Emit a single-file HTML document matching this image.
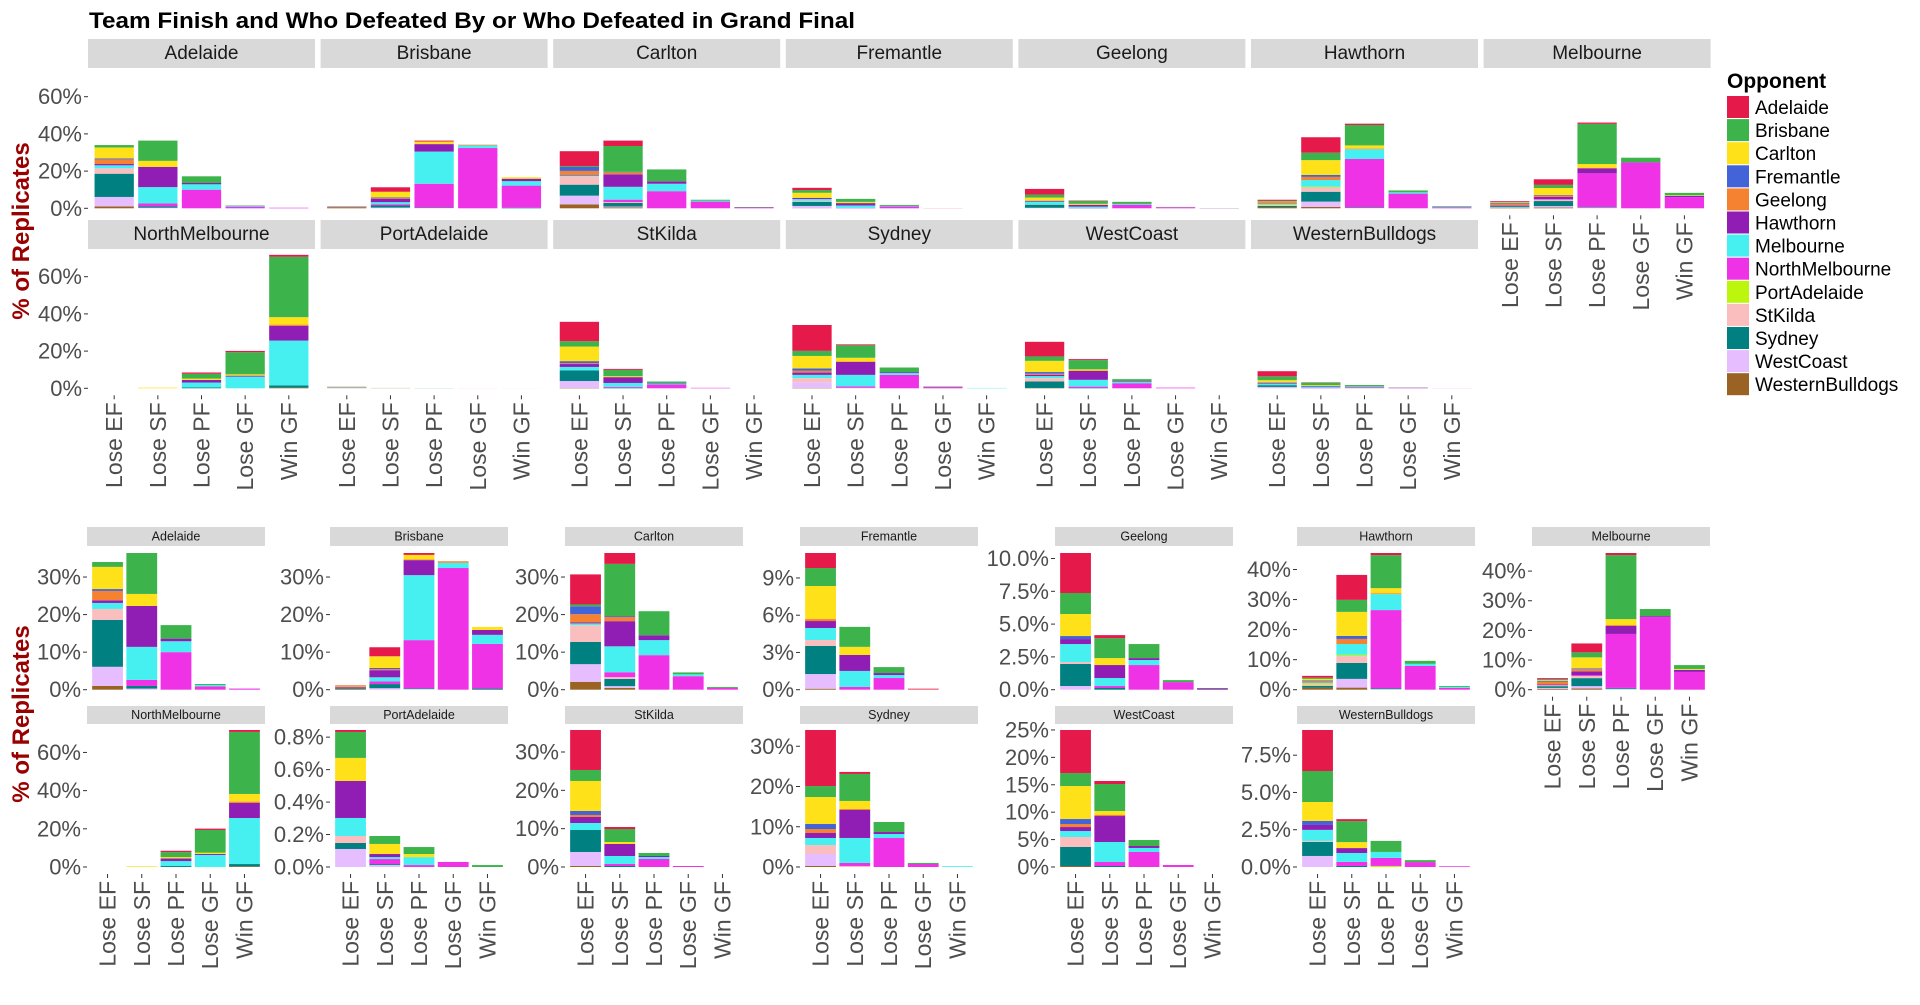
<!DOCTYPE html>
<html><head><meta charset="utf-8"><title>Team Finish</title>
<style>html,body{margin:0;padding:0;background:#fff;}svg{display:block;font-family:"Liberation Sans",Arial,sans-serif;}</style>
</head><body>
<svg id="chart" xmlns="http://www.w3.org/2000/svg" width="1920" height="1005" viewBox="0 0 1920 1005">
<rect x="0" y="0" width="1920" height="1005" fill="#fff"/>
<text x="89" y="28" font-size="22" font-weight="bold" fill="#000" textLength="766" lengthAdjust="spacingAndGlyphs">Team Finish and Who Defeated By or Who Defeated in Grand Final</text>
<text transform="translate(29,231) rotate(-90)" text-anchor="middle" font-size="24" font-weight="bold" fill="#990000">% of Replicates</text>
<text transform="translate(29,714) rotate(-90)" text-anchor="middle" font-size="24" font-weight="bold" fill="#990000">% of Replicates</text>
<g id="legend"><text x="1727" y="88" font-size="21" font-weight="bold" fill="#000">Opponent</text></g>
<g id="topFacets"></g>
<g id="bottomFacets"></g>
</svg>
<script>
const teams=["Adelaide","Brisbane","Carlton","Fremantle","Geelong","Hawthorn","Melbourne","NorthMelbourne","PortAdelaide","StKilda","Sydney","WestCoast","WesternBulldogs"];
const opponents=["Adelaide","Brisbane","Carlton","Fremantle","Geelong","Hawthorn","Melbourne","NorthMelbourne","PortAdelaide","StKilda","Sydney","WestCoast","WesternBulldogs"];
const opponentColors=["#e6194b","#3cb44b","#ffe119","#4363d8","#f58231","#911eb4","#46f0f0","#f032e6","#bcf60c","#fabebe","#008080","#e6beff","#9a6324"];
const categories=["Lose EF","Lose SF","Lose PF","Lose GF","Win GF"];
const adelaideVals=[[0,1.3,5.9,.5,2.5,.7,1.6,0,0,2.9,12.5,5.1,1.0],[0,10.9,3.2,0,0,10.9,8.8,1.6,0,0,.7,.3,0],[0,3.6,0,0,0,.7,2.9,10.0,0,0,0,0,0],[0,.25,0,0,0,0,.35,.9,0,0,0,0,0],[0,0,0,0,0,0,0,.3,0,0,0,0,0]];
const brisbaneVals=[[.1,0,.2,.1,.2,.2,0,0,0,0,.2,0,.2],[2.4,0,3.1,.3,.3,1.9,1.1,.7,0,0,1.1,.4,0],[.5,0,1.2,0,.2,4.0,17.3,12.8,0,0,.2,.2,0],[0,0,0,0,.4,0,1.4,32.4,0,0,0,0,0],[0,0,.8,0,0,1.3,2.4,11.9,0,0,.3,0,0]];
const carltonVals=[[8.0,.5,0,2.1,2.2,.25,.45,0,0,4.5,5.9,4.7,2.1],[2.9,13.9,0,.25,1.1,6.7,6.9,1.3,0,.5,1.9,.45,.5],[0,6.4,0,0,0,1.3,4.0,9.2,0,0,0,0,0],[0,.5,0,0,0,0,.5,3.6,0,0,0,0,0],[0,.25,0,0,0,0,0,.45,0,0,0,0,0]];
const fremantleVals=[[1.21,1.45,2.66,0,.16,.56,.97,0,0,.48,2.26,1.18,.08],[0,1.61,.65,0,0,1.29,1.29,.22,0,0,0,0,0],[0,.48,0,0,0,.16,.24,.94,0,0,0,0,0],[0,0,.05,0,0,0,0,.08,0,0,0,0,0],[0,0,0,0,0,0,0,0,0,0,0,0,0]];
const geelongVals=[[3.05,1.6,1.68,.23,0,.38,1.37,0,0,.15,1.68,.28,0],[.23,1.52,.53,0,0,.99,.61,.15,0,0,.13,0,0],[0,1.07,0,0,0,.15,.38,1.88,0,0,0,0,0],[0,.15,0,0,0,0,0,.58,0,0,0,0,0],[0,.03,0,0,0,.1,0,0,0,0,0,0,0]];
const hawthornVals=[[.6,.4,.5,.3,.5,0,.3,0,.3,.4,.6,0,.7],[8.3,4.0,8.0,1.0,1.7,0,3.6,0,.4,2.3,5.3,2.9,.7],[.7,11.0,1.7,0,.3,0,5.3,26.0,0,0,.3,.2,0],[0,1.0,0,0,0,0,.7,7.9,0,0,0,0,0],[0,.3,0,0,0,0,.3,.6,0,0,0,0,0]];
const melbourneVals=[[.4,.3,.3,.3,.8,.3,0,0,0,.3,.6,.3,.3],[3.0,1.7,3.7,.3,.7,1.3,0,.3,0,.7,2.7,.8,.4],[.7,21.6,2.0,0,.3,2.7,0,18.2,0,0,.3,.3,0],[0,2.4,0,0,0,.3,0,24.5,0,0,0,0,0],[0,1.3,.3,0,0,.7,0,6.0,0,0,0,0,0]];
const northMelbourneVals=[[0,0,0,0,0,0,0,0,0,0,0,0,0],[0,0,.35,0,0,0,0,0,0,0,0,0,0],[.7,2.6,.7,0,0,1.4,2.6,0,0,0,.5,0,0],[.7,11.9,.7,0,0,.5,6.3,0,0,0,0,0,0],[1.0,32.5,4.0,0,.7,7.9,24.1,0,0,0,1.2,0,.35]];
const portAdelaideVals=[[.012,.16,.142,0,0,.228,.111,0,0,.043,.037,.111,0],[0,.049,.062,0,0,.019,.012,.031,0,0,.006,.012,0],[0,.043,.019,0,0,0,.049,.012,0,0,0,0,0],[0,0,0,0,0,0,0,.031,0,0,0,0,0],[0,.012,0,0,0,0,0,0,0,0,0,0,0]];
const stKildaVals=[[10.43,2.87,7.83,1.04,.52,1.57,1.83,0,0,0,5.74,3.65,.26],[.52,3.39,.52,0,0,3.13,2.09,.52,0,0,.26,0,0],[0,.78,0,0,0,.26,.52,2.09,0,0,0,0,0],[0,0,0,0,0,0,0,.26,0,0,0,0,0],[0,0,0,0,0,0,0,0,0,0,0,0,0]];
const sydneyVals=[[13.92,2.73,6.71,1.24,.99,1.24,1.74,0,0,2.24,0,2.98,.25],[.5,6.71,1.99,0,.25,6.96,6.21,.75,0,.25,0,0,0],[0,2.49,0,0,0,.5,.99,7.2,0,0,0,0,0],[0,.25,0,0,0,0,0,.75,0,0,0,0,0],[0,0,0,0,0,0,.2,0,0,0,0,0,0]];
const westCoastVals=[[7.85,2.37,6.02,.91,.55,.73,1.09,0,0,1.82,3.47,0,.18],[.55,4.93,.67,0,.24,4.74,3.65,.73,0,0,.18,0,0],[0,1.09,0,0,0,.36,.73,2.74,0,0,0,0,0],[0,0,0,0,0,0,0,.36,0,0,0,0,0],[0,0,0,0,0,0,0,0,0,0,0,0,0]];
const westernBulldogsVals=[[2.75,2.08,1.27,.27,0,.33,.74,0,0,.07,.94,.74,0],[.13,1.41,.4,0,0,.33,.6,.27,0,0,.07,0,0],[0,.74,0,0,0,0,.4,.54,.07,0,0,0,0],[0,.13,0,0,0,0,0,.33,0,0,0,0,0],[0,0,0,0,0,0,0,.05,0,0,0,0,0]];
const teamValues=[adelaideVals,brisbaneVals,carltonVals,fremantleVals,geelongVals,hawthornVals,melbourneVals,northMelbourneVals,portAdelaideVals,stKildaVals,sydneyVals,westCoastVals,westernBulldogsVals];
const topTicks=[0,20,40,60];
const bottomTicks=[[0,10,20,30],[0,10,20,30],[0,10,20,30],[0,3,6,9],[0,2.5,5,7.5,10],[0,10,20,30,40],[0,10,20,30,40],[0,20,40,60],[0,0.2,0.4,0.6,0.8],[0,10,20,30],[0,10,20,30],[0,5,10,15,20,25],[0,2.5,5,7.5]];

const NS="http://www.w3.org/2000/svg";
function mk(tag,attrs,parent){const e=document.createElementNS(NS,tag);for(const k in attrs)e.setAttribute(k,attrs[k]);parent.appendChild(e);return e;}
function stackTotal(v){return v.reduce((a,b)=>a+b,0);}

const legendG=document.getElementById('legend');
opponents.forEach((o,i)=>{
  const y=96+i*23.1;
  const r=mk('rect',{x:1727,y:y,width:22,height:22,fill:opponentColors[i]},legendG);
  
  
  const t=mk('text',{x:1755,y:y+18,'font-size':19,fill:'#000'},legendG);
  t.textContent=o;
  
  
});

function drawPanel(g,team,vals,x0,w,stripY,stripH,stripFont,zeroY,yScale,showXLabels,xLabelFont){
  const pg=mk('g',{},g);
  
  
  const s=mk('rect',{x:x0,y:stripY,width:w,height:stripH,fill:'#d9d9d9'},pg);
  
  
  const st=mk('text',{x:x0+w/2,y:stripY+stripH/2,'text-anchor':'middle','dominant-baseline':'central','font-size':stripFont,fill:'#1a1a1a'},pg);
  st.textContent=team;
  
  
  const unit=w/5.2;
  categories.forEach((c,ci)=>{
    const cx=x0+unit*(0.6+ci);
    const bw=unit*0.9;
    let cum=0;
    for(let oi=opponents.length-1;oi>=0;oi--){
      const v=vals[ci][oi];
      if(v<=0)continue;
      const y1=zeroY-cum*yScale, y2=zeroY-(cum+v)*yScale;
      const r=mk('rect',{x:cx-bw/2,y:y2,width:bw,height:Math.max(0,y1-y2),fill:opponentColors[oi]},pg);
      
      
      cum+=v;
    }
    if(showXLabels){
      const by=zeroY+7;
      mk('line',{x1:cx,x2:cx,y1:by,y2:by+4,stroke:'#333','stroke-width':1},pg);
      const t=mk('text',{transform:'translate('+(cx+8)+','+(by+7)+') rotate(-90)','text-anchor':'end','font-size':xLabelFont,fill:'#4d4d4d'},pg);
      t.textContent=c;
      
      
    }
  });
}
function drawYAxis(g,ticks,x0,zeroY,yScale,font){
  const dec=ticks.some(t=>t%1!==0)?1:0;
  ticks.forEach(t=>{
    const y=zeroY-t*yScale;
    mk('line',{x1:x0-4,x2:x0,y1:y,y2:y,stroke:'#333','stroke-width':1},g);
    const tx=mk('text',{x:x0-6,y:y,'text-anchor':'end','dominant-baseline':'central','font-size':font,fill:'#4d4d4d'},g);
    tx.textContent=t.toFixed(dec)+'%';
    
    
  });
}

const topG=document.getElementById('topFacets');
const topScale=111.6/60;
teams.forEach((team,k)=>{
  const r=Math.floor(k/7),c=k%7;
  const x0=88+c*232.6;
  const zeroY=r?388.3:208.3;
  const showX=(r===1)||(c===6);
  drawPanel(topG,team,teamValues[k],x0,227,r?220:39,29,19,zeroY,topScale,showX,23);
  if(c===0)drawYAxis(topG,topTicks,x0,zeroY,topScale,22);
});

const bottomG=document.getElementById('bottomFacets');
const colX=[87,330,565,800,1055,1297,1532];
teams.forEach((team,k)=>{
  const r=Math.floor(k/7),c=k%7;
  const x0=colX[c];
  const zeroY=r?867:689.7;
  const topY=r?730:553;
  const maxStack=Math.max(...teamValues[k].map(stackTotal));
  const sc=(zeroY-topY)/maxStack;
  const showX=(r===1)||(c===6);
  drawPanel(bottomG,team,teamValues[k],x0,178,r?706:527,r?18:19,12.5,zeroY,sc,showX,23);
  drawYAxis(bottomG,bottomTicks[k],x0,zeroY,sc,22);
});
</script>
</body></html>
